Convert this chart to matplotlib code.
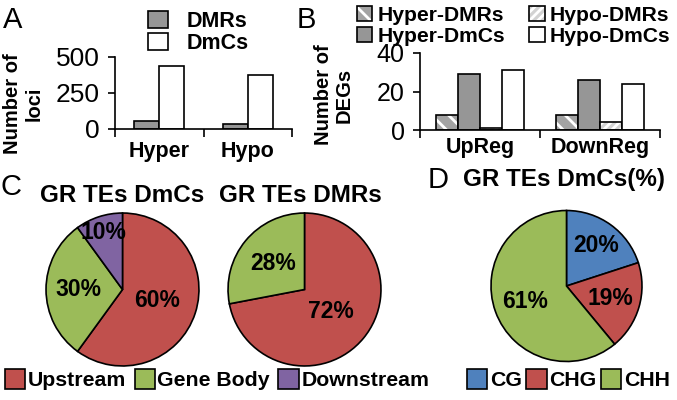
import numpy as np
import matplotlib
matplotlib.use('Agg')
import matplotlib.pyplot as plt
from matplotlib.patches import Patch

plt.rcParams['font.family'] = ['Liberation Sans', 'DejaVu Sans']
plt.rcParams['hatch.linewidth'] = 2.0

# A: loci counts
a_groups = ['Hyper', 'Hypo']
a_dmrs = [58, 33]
a_dmcs = [437, 373]

# B: DEG counts
b_groups = ['UpReg', 'DownReg']
b_hyper_dmrs = [8, 8]
b_hyper_dmcs = [29, 26]
b_hypo_dmrs = [1, 4]
b_hypo_dmcs = [31, 24]

# C: location of GR TEs
c_labels = ['Upstream', 'Gene Body', 'Downstream']
c_dmcs = [60, 30, 10]
c_dmrs = [72, 28, 0]

# D: context
d_labels = ['CG', 'CHG', 'CHH']
d_dmcs = [20, 19, 61]

RED, GREEN, PURPLE, BLUE = '#C0504D', '#9BBB59', '#8064A2', '#4F81BD'
GREY = '#969696'
LW = 1.2

W, H = 677, 400
fig = plt.figure(figsize=(W / 100, H / 100), dpi=100)


def box(x0, y0, x1, y1):
    # pixel box, origin top-left -> figure fraction
    return [x0 / W, 1 - y1 / H, (x1 - x0) / W, (y1 - y0) / H]


def ftext(x, y, s, **kw):
    return fig.text(x / W, 1 - y / H, s, **kw)


def style_axes(ax, ticklabel_size, xpad):
    for s in ['top', 'right']:
        ax.spines[s].set_visible(False)
    for s in ['left', 'bottom']:
        ax.spines[s].set_linewidth(LW)
    ax.tick_params(axis='y', length=5, width=LW, labelsize=ticklabel_size, pad=6)
    ax.tick_params(axis='x', which='major', length=6, width=LW, labelbottom=False)
    ax.tick_params(axis='x', which='minor', length=0, pad=xpad)


# ---------- A ----------
axA = fig.add_axes(box(115, 57, 292, 129))
xa = np.arange(len(a_groups))
wa = 0.28
axA.bar(xa - wa / 2, a_dmrs, wa, color=GREY, edgecolor='black', lw=LW, label='DMRs')
axA.bar(xa + wa / 2, a_dmcs, wa, color='white', edgecolor='black', lw=LW, label='DmCs')
axA.set_xlim(-0.5, len(a_groups) - 0.5)
axA.set_ylim(0, 500)
axA.set_yticks([0, 250, 500])
axA.set_xticks(np.arange(len(a_groups) + 1) - 0.5)
axA.set_xticks(xa, minor=True)
axA.set_xticklabels(a_groups, minor=True, fontweight='bold', fontsize=15.5)
style_axes(axA, 19, 9)
fig.legend(*axA.get_legend_handles_labels(), loc='upper left',
           bbox_to_anchor=(148 / W, 1 - 11 / H), frameon=False,
           prop=dict(weight='bold', size=15.5), borderpad=0, borderaxespad=0,
           handlelength=0.95, handleheight=0.85, handletextpad=0.85, labelspacing=0.05)
ftext(23, 104, 'Number of\nloci', rotation=90, ha='center', va='center', ma='center',
      fontweight='bold', fontsize=14.5)

# ---------- B ----------
axB = fig.add_axes(box(420, 53, 660, 130))
xb = np.arange(len(b_groups))
wb = 0.183
offs = np.array([-1.5, -0.5, 0.5, 1.5]) * wb
h1 = axB.bar(xb + offs[0], b_hyper_dmrs, wb, color='#a3a3a3', hatch='\\\\', edgecolor='white', lw=0)
o1 = axB.bar(xb + offs[0], b_hyper_dmrs, wb, facecolor='none', edgecolor='black', lw=LW)
h2 = axB.bar(xb + offs[1], b_hyper_dmcs, wb, color=GREY, edgecolor='black', lw=LW)
h3 = axB.bar(xb + offs[2], b_hypo_dmrs, wb, color='#d2d2d2', hatch='////', edgecolor='white', lw=0)
o3 = axB.bar(xb + offs[2], b_hypo_dmrs, wb, facecolor='none', edgecolor='black', lw=LW)
h4 = axB.bar(xb + offs[3], b_hypo_dmcs, wb, color='white', edgecolor='black', lw=LW)
axB.set_xlim(-0.5, len(b_groups) - 0.5)
axB.set_ylim(0, 40)
axB.set_yticks([0, 20, 40])
axB.set_xticks(np.arange(len(b_groups) + 1) - 0.5)
axB.set_xticks(xb, minor=True)
axB.set_xticklabels(b_groups, minor=True, fontweight='bold', fontsize=15.5)
style_axes(axB, 18, 5)
fig.legend([(h1[0], o1[0]), h2[0], (h3[0], o3[0]), h4[0]],
           ['Hyper-DMRs', 'Hyper-DmCs', 'Hypo-DMRs', 'Hypo-DmCs'],
           ncol=2, loc='upper left', bbox_to_anchor=(357 / W, 1 - 6 / H), frameon=False,
           prop=dict(weight='bold', size=15.2), borderpad=0, borderaxespad=0,
           handlelength=0.72, handleheight=0.72, handletextpad=0.25, labelspacing=0.08,
           columnspacing=1.15)
ftext(334, 95, 'Number of\nDEGs', rotation=90, ha='center', va='center', ma='center',
      fontweight='bold', fontsize=14.5, linespacing=1.1)


# ---------- pies ----------
def draw_pie(cx, cy, r, values, colors, dists):
    ax = fig.add_axes(box(cx - r, cy - r, cx + r, cy + r))
    keep = [i for i, v in enumerate(values) if v > 0]
    vals = [values[i] for i in keep]
    cols = [colors[i] for i in keep]
    wedges, _ = ax.pie(vals, colors=cols, startangle=90, counterclock=False, radius=1,
                       wedgeprops=dict(edgecolor='black', linewidth=LW))
    for wdg, v, d in zip(wedges, vals, [dists[i] for i in keep]):
        ang = np.deg2rad((wdg.theta1 + wdg.theta2) / 2)
        ax.text(d * np.cos(ang), d * np.sin(ang), f'{v}%', ha='center', va='center',
                fontweight='bold', fontsize=16.5)
    ax.set_xlim(-1.02, 1.02)
    ax.set_ylim(-1.02, 1.02)
    ax.set_aspect('equal')
    return ax


c_colors = [RED, GREEN, PURPLE]
draw_pie(122.5, 289.5, 78, c_dmcs, c_colors, [0.48, 0.58, 0.79])
draw_pie(304.5, 289.5, 78, c_dmrs, c_colors, [0.45, 0.53, 0.5])
d_colors = [BLUE, RED, GREEN]
draw_pie(566.5, 286, 77, d_dmcs, d_colors, [0.67, 0.61, 0.59])

ftext(122, 202, 'GR TEs DmCs', ha='center', va='baseline', fontweight='bold', fontsize=17.5)
ftext(300, 202, 'GR TEs DMRs', ha='center', va='baseline', fontweight='bold', fontsize=17.5)
ftext(564, 186, 'GR TEs DmCs(%)', ha='center', va='baseline', fontweight='bold', fontsize=17.5)

leg_kw = dict(loc='upper left', frameon=False, prop=dict(weight='bold', size=15.3),
              borderpad=0, borderaxespad=0, handlelength=0.95, handleheight=1.05,
              handletextpad=0.12)
fig.legend([Patch(facecolor=c, edgecolor='black', lw=LW) for c in c_colors], c_labels,
           ncol=3, bbox_to_anchor=(5 / W, 1 - 369 / H), columnspacing=0.4, **leg_kw)
fig.legend([Patch(facecolor=c, edgecolor='black', lw=LW) for c in d_colors], d_labels,
           ncol=3, bbox_to_anchor=(467 / W, 1 - 369 / H), columnspacing=0.22, **leg_kw)

# panel letters
for letter, x, y in [('A', 3, 28), ('B', 297, 28), ('C', 0, 195), ('D', 428, 188)]:
    ftext(x, y, letter, ha='left', va='baseline', fontsize=21)

fig.savefig('out.png', dpi=100, facecolor='white')
